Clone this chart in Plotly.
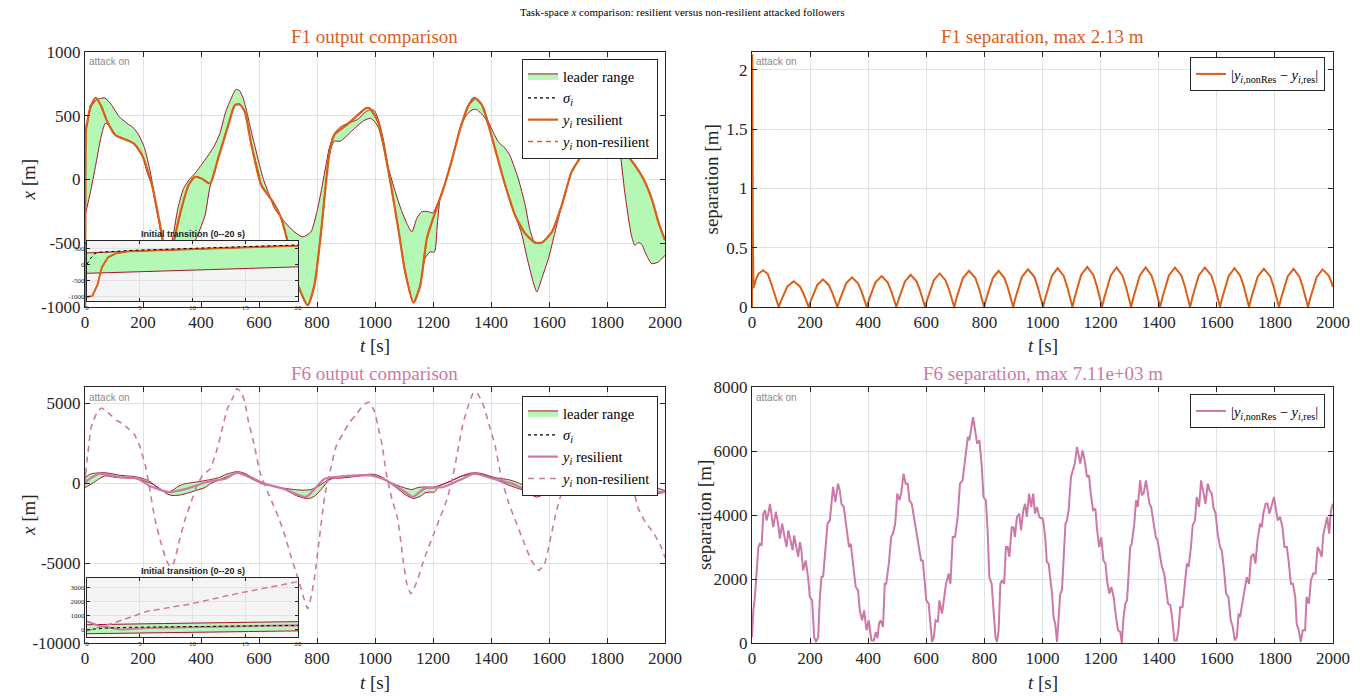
import plotly.graph_objects as go

# ---------------- data ----------------
# Leader range (shared by both followers)
BAND_UP_T = [0, 20, 40, 68, 90, 117, 145, 165, 185, 205, 225, 245, 265, 285, 300, 320, 340, 360, 380, 400,
             425, 445, 465, 485, 505, 520, 532, 545, 558, 572, 586, 600, 614, 635, 654, 688, 722, 751, 779, 800,
             814, 830, 842, 860, 880, 905, 939, 968, 985, 998, 1013, 1030, 1047, 1070, 1093, 1110, 1127, 1144,
             1160, 1180, 1200, 1215, 1236, 1265, 1294, 1323, 1340, 1355, 1375, 1391, 1410, 1425, 1449, 1465,
             1480, 1494, 1518, 1535, 1552, 1575, 1610, 1644, 1678, 1713, 1741, 1770, 1795, 1815, 1829, 1840,
             1861, 1896, 1925, 1954, 1977, 2000]
BAND_UP = [350, 565, 625, 640, 590, 495, 440, 410, 350, 250, 60, -200, -450, -560, -480, -230, -70, 0, 50, 110,
           190, 260, 360, 530, 640, 705, 700, 640, 530, 390, 260, 130, 10, -120, -228, -332, -411, -450, -411, -250,
           -97, 100, 244, 360, 410, 440, 470, 531, 550, 540, 460, 300, 86, -97, -254, -346, -411, -306,
           -255, -250, -262, -190, -71, 152, 401, 590, 645, 625, 560, 453, 360, 296, 244, 190,
           100, 8, -202, -400, -500, -495, -411, -202, 60, 191, 330, 480, 600, 560, 350, 300,
           217, 113, 8, -149, -332, -476]

BAND_LO_T = [0, 20, 40, 55, 70, 85, 105, 139, 168, 197, 215, 231, 245, 259, 280, 300, 325, 350, 379, 400,
             414, 431, 459, 494, 517, 534, 551, 574, 600, 608, 648, 677, 699, 730, 768, 791, 814, 842, 859, 880,
             920, 960, 985, 1000, 1013, 1036, 1059, 1082, 1104, 1133, 1156, 1172, 1190, 1205, 1215, 1225, 1236,
             1265, 1294, 1315, 1335, 1350, 1365, 1380, 1391, 1420, 1449, 1483, 1505, 1525, 1545, 1558, 1575,
             1598, 1621, 1644, 1678, 1713, 1741, 1770, 1795, 1815, 1829, 1845, 1861, 1884, 1896, 1908, 1920,
             1931, 1954, 1977, 2000]
BAND_LO = [-287, -85, 150, 330, 440, 420, 348, 314, 283, 191, 50, -45, -220, -359, -650, -780, -760, -650, -489, -370,
           -280, -57, 165, 427, 584, 589, 531, 270, 40, -45, -175, -306, -489, -800, -987, -830, -411, 191, 300, 300,
           380, 460, 480, 450, 400, 191, -97, -411, -725, -966, -830, -620, -568, -568, -350, -140, -71,
           152, 401, 505, 545, 550, 520, 480, 427, 191, -45, -280, -420, -620, -800, -882, -777,
           -620, -411, -202, 60, 191, 309, 400, 480, 420, 300, 200, -97, -437, -516, -495, -510,
           -568, -660, -647, -594]

# Follower F1 output (resilient; non-resilient coincides at this scale)
F1_T = [0, 0.5, 1, 1.4, 2, 2.8, 4, 6, 9, 12, 15, 20, 37, 55, 77, 105, 139, 168, 197, 231, 259, 275, 290, 307,
        330, 357, 379, 402, 431, 459, 494, 517, 534, 551, 574, 608, 648, 677, 699, 730, 768, 791, 814, 842, 859,
        894, 928, 968, 980, 991, 1013, 1036, 1059, 1082, 1104, 1133, 1156, 1179, 1208, 1236, 1265, 1294, 1323,
        1346, 1369, 1391, 1420, 1449, 1483, 1518, 1552, 1575, 1610, 1644, 1678, 1713, 1741, 1765, 1790, 1810,
        1829, 1861, 1896, 1925, 1954, 1977, 2000]
F1_RES = [-1030, -990, -640, -106, 213, 340, 404, 425, 457, 500, 532, 574, 641, 580, 453, 348, 314, 283, 191, -45, -359,
          -560, -650, -480, -250, -45, 21, 8, -31, 165, 427, 584, 589, 531, 270, -45, -175, -306, -489, -800, -987,
          -830, -411, 191, 348, 414, 479, 558, 560, 531, 440, 191, -97, -411, -725, -966, -830, -463, -254, -71, 152,
          401, 584, 636, 584, 427, 191, -45, -280, -424, -495, -495, -411, -202, 60, 191, 309, 430, 540, 470,
          330, 217, 113, 8, -149, -332, -476]

# sigma_i during the initial transition
SIG1_T = [0, 0.3, 0.7, 1.2, 2.5, 4, 8, 12, 16, 20]
SIG1 = [0, 160, 320, 372, 394, 425, 470, 510, 548, 596]
SIG6_T = [0, 1, 2, 4, 8, 12, 16, 20]
SIG6 = [0, 80, 118, 165, 200, 235, 270, 300]

# Follower F6 outputs
F6_T = [0, 1.3, 3.2, 5.7, 20, 50, 116, 182, 220, 287, 353, 419, 485, 524, 564, 617, 683, 762, 800, 827, 906, 985,
        1038, 1104, 1130, 1170, 1236, 1302, 1341, 1407, 1473, 1552, 1605, 1657, 1723, 1789, 1855, 1908, 2000]
F6_RES = [590, 236, 20, 118, 307, 580, 375, 270, -150, -560, -350, 60, 270, 650, 375, -40, -350, -870, -200, 270, 440,
          480, 170, -560, -870, -350, -250, 270, 580, 270, -40, -670, -350, 60, 270, 480, -150, -460, -560]

F6N_T = [0, 2.5, 5.7, 9.8, 14.5, 20, 30, 43, 57, 70, 90, 109, 129, 149, 169, 188, 208, 221, 241, 261, 281, 294, 307,
         327, 346, 366, 386, 406, 432, 452, 472, 491, 511, 524, 538, 551, 564, 584, 603, 630, 650, 669, 689, 709,
         735, 755, 768, 781, 794, 808, 827, 847, 867, 893, 913, 933, 959, 979, 999, 1012, 1025, 1038, 1058, 1078,
         1098, 1111, 1124, 1144, 1170, 1196, 1223, 1249, 1269, 1289, 1302, 1322, 1341, 1354, 1374, 1394, 1414,
         1434, 1460, 1486, 1513, 1539, 1565, 1585, 1605, 1625, 1644, 1664, 1680, 1700, 1720, 1750, 1775, 1797,
         1820, 1840, 1860, 1875, 1890, 1908, 1934, 1960, 1987, 2000]
F6_NRES = [-100, 470, 1300, 1820, 2600, 3400, 3950, 4440, 4690, 4540, 4230, 3920, 3710, 3400, 3080, 2350, 1100, -150,
           -2230, -3690, -4830, -5250, -4940, -3480, -2230, -1190, -150, 480, 900, 1900, 3300, 4650, 5375, 5900, 5690,
           5060, 3810, 2350, 690, -560, -1400, -2230, -3270, -4520, -5980, -7230, -7850, -7020, -5560, -3480, -770,
           900, 2350, 3190, 3810, 4230, 4850, 5060, 4440, 3400, 2350, 690, -980, -2230, -4940, -6400, -6920, -6190,
           -4730, -3480, -2230, -980, 480, 2350, 3600, 4850, 5690, 5580, 4850, 3600, 2350, 480, -1190, -2440, -3690,
           -4830, -5460, -5040, -3480, -1810, -560, 480, 1000, 2200, 2900, 4000, 4800, 5100, 4400, 3300, 1900, 800,
           -300, -1600, -2500, -3100, -4000, -4650]

# F1 separation |y_nonRes - y_res|
SEP1_T = [0, 1, 3, 5, 12, 22, 38, 54, 66, 76, 84, 92,
          100, 110, 122, 143, 165, 177, 187, 195,
          203, 213, 225, 244, 264, 276, 286, 294,
          302, 312, 324, 344, 365, 377, 387, 395,
          403, 413, 425, 446, 467, 479, 489, 497,
          505, 515, 527, 546, 566, 578, 588, 596,
          604, 614, 626, 646, 666, 678, 688, 696,
          704, 714, 726, 747, 769, 781, 791, 799,
          807, 817, 829, 849, 869, 881, 891, 899,
          907, 917, 929, 950, 972, 984, 994, 1002,
          1010, 1020, 1032, 1052, 1073, 1085, 1095, 1103,
          1111, 1121, 1133, 1154, 1175, 1187, 1197, 1205,
          1213, 1223, 1235, 1255, 1275, 1287, 1297, 1305,
          1313, 1323, 1335, 1355, 1375, 1387, 1397, 1405,
          1413, 1423, 1435, 1456, 1478, 1490, 1500, 1508,
          1516, 1526, 1538, 1559, 1581, 1593, 1603, 1611,
          1619, 1629, 1641, 1661, 1681, 1693, 1703, 1711,
          1719, 1729, 1741, 1762, 1784, 1796, 1806, 1814,
          1822, 1832, 1844, 1864, 1884, 1896, 1906, 1914,
          1922, 1932, 1944, 1964, 1985, 1993, 2000]
SEP1 = [0, 2.13, 0.6, 0.16, 0.22, 0.28, 0.31, 0.28, 0.2, 0.13, 0.065, 0,
        0.053, 0.114, 0.174, 0.217, 0.174, 0.114, 0.053, 0,
        0.057, 0.122, 0.186, 0.233, 0.186, 0.122, 0.057, 0,
        0.061, 0.131, 0.2, 0.25, 0.2, 0.131, 0.061, 0,
        0.064, 0.137, 0.208, 0.26, 0.208, 0.137, 0.064, 0,
        0.067, 0.143, 0.218, 0.272, 0.218, 0.143, 0.067, 0,
        0.069, 0.149, 0.226, 0.283, 0.226, 0.149, 0.069, 0,
        0.075, 0.16, 0.244, 0.305, 0.244, 0.16, 0.075, 0,
        0.075, 0.16, 0.244, 0.305, 0.244, 0.16, 0.075, 0,
        0.078, 0.166, 0.254, 0.317, 0.254, 0.166, 0.078, 0,
        0.08, 0.172, 0.262, 0.328, 0.262, 0.172, 0.08, 0,
        0.083, 0.178, 0.271, 0.339, 0.271, 0.178, 0.083, 0,
        0.082, 0.175, 0.266, 0.333, 0.266, 0.175, 0.082, 0,
        0.082, 0.175, 0.266, 0.333, 0.266, 0.175, 0.082, 0,
        0.082, 0.175, 0.266, 0.333, 0.266, 0.175, 0.082, 0,
        0.082, 0.175, 0.266, 0.333, 0.266, 0.175, 0.082, 0,
        0.08, 0.172, 0.262, 0.328, 0.262, 0.172, 0.08, 0,
        0.079, 0.169, 0.258, 0.322, 0.258, 0.169, 0.079, 0,
        0.079, 0.169, 0.258, 0.322, 0.258, 0.169, 0.079, 0,
        0.078, 0.166, 0.254, 0.317, 0.265, 0.22, 0.17]

# F6 separation |y_nonRes - y_res|
SEP6_T = [0, 4.6, 10, 16, 22, 27, 33, 39, 45, 50, 56, 62, 67, 73, 82, 90, 96, 104, 113, 119, 125, 130, 140, 145, 153,
          159, 165, 170, 176, 185, 193, 199, 207, 214, 220, 228, 233, 239, 245, 251, 260, 268, 274, 279, 287, 296,
          302, 308, 316, 325, 334, 340, 348, 357, 365, 371, 379, 386, 394, 402, 411, 419, 426, 432, 437, 443, 451,
          457, 462, 471, 479, 485, 493, 500, 508, 514, 522, 529, 536, 542, 550, 557, 565, 574, 582, 588, 594, 600,
          608, 614, 620, 626, 632, 640, 645, 654, 662, 668, 677, 683, 691, 699, 708, 716, 725, 734, 743, 748, 754,
          761, 768, 775, 783, 791, 797, 805, 811, 817, 825, 832, 838, 843, 849, 855, 860, 868, 874, 880, 886, 894,
          900, 905, 912, 920, 926, 934, 940, 946, 954, 961, 968, 974, 981, 989, 994, 1000,
          1004, 1010, 1015, 1021, 1027, 1033, 1038, 1044, 1050, 1056, 1061, 1067, 1073, 1079, 1084, 1090, 1098,
          1104, 1111, 1119, 1124, 1130, 1138, 1145, 1153, 1160, 1166, 1174, 1182, 1187, 1195, 1202, 1210, 1217,
          1222, 1230, 1237, 1245, 1253, 1260, 1268, 1273, 1279, 1285, 1291, 1296, 1302, 1307, 1316, 1322, 1328,
          1336, 1342, 1348, 1356, 1363, 1368, 1374, 1382, 1390, 1396, 1403, 1411, 1419, 1425, 1432, 1440, 1446,
          1454, 1462, 1468, 1474, 1482, 1489, 1497, 1503, 1511, 1517, 1525, 1531, 1539, 1546, 1554, 1561, 1569,
          1575, 1583, 1588, 1596, 1603, 1611, 1617, 1625, 1632, 1640, 1648, 1655, 1662, 1669, 1675, 1680, 1688,
          1695, 1703, 1711, 1718, 1726, 1733, 1740, 1749, 1755, 1760, 1768, 1775, 1781, 1789, 1797, 1804, 1810,
          1818, 1826, 1833, 1841, 1847, 1855, 1862, 1870, 1875, 1882, 1889, 1896, 1904, 1909, 1917, 1924, 1932,
          1940, 1947, 1953, 1961, 1967, 1975, 1980, 1987, 1993, 2000]
SEP6 = [190, 1020, 1440, 2270, 3000, 3100, 3050, 4040, 4150, 3830, 4040, 4350, 4040, 3620, 4100, 3730, 3260, 3730,
        3260, 3000, 3520, 3310, 2900, 3360, 3000, 2690, 3160, 2900, 2270, 2580, 2060, 1440, 1330, 190, 30, 190, 1330,
        2060, 2080, 2690, 3730, 3830, 4560, 4880, 4400, 4980, 4770, 4350, 4250, 3620, 3000, 3100, 2480, 1750, 1650,
        1020, 710, 1020, 400, 710, 80, 80, 340, 150, 600, 710, 500, 1850, 1850, 2480, 3310, 3420, 3730, 4670, 4460,
        4720, 5290, 4980, 4980, 4460, 4350, 3940, 3620, 3000, 2580, 2580, 1850, 1330, 1230, 500, 30, 190, 710, 660,
        1330, 920, 1440, 1850, 2170, 1850, 3310, 3310, 3940, 4980, 5080, 5710, 6440, 6330, 6650, 7060, 6650, 6230,
        6330, 5500, 4560, 4460, 3520, 2060, 1850, 920, 190, 30, 400, 1850, 1960, 1850, 3000, 3000, 2690, 3620, 3620,
        3310, 3940, 4040, 3520, 4150, 4350, 3940, 4670, 4250, 4670, 4040, 4250, 3940, 3900, 3900,
        3730, 3210, 2530, 2480, 2060, 1540, 810, 600, 30, 810, 1540, 1650, 2690, 3730, 3830, 4150, 5190,
        5350, 5610, 6130, 5920, 5610, 6020, 5710, 5190, 5240, 4670, 4150, 4200, 3620, 3000, 3310, 2580, 2480,
        1960, 1540, 1750, 1440, 810, 400, 340, 0, 810, 1230, 1330, 2270, 3000, 3100, 3730, 4460, 4250,
        5080, 4620, 4670, 5080, 4670, 4350, 4250, 3730, 3310, 3210, 2790, 2380, 2170, 1650, 1230, 1180, 810,
        80, 80, 400, 1120, 1120, 1850, 2480, 2380, 3000, 3680, 3830, 4560, 4250, 5080, 4670, 4350, 4980,
        4770, 4670, 4250, 4040, 3420, 3000, 2900, 2270, 1540, 1440, 710, 500, 80, 190, 920, 810, 1230,
        1650, 2060, 1850, 2690, 2790, 2480, 3210, 3730, 3620, 4040, 4350, 4350, 4040, 4350, 4560, 4150, 3830,
        3940, 3620, 3000, 3000, 2580, 1850, 1850, 1440, 600, 400, 30, 400, 400, 1440, 1230, 1960, 2170,
        2170, 3000, 2900, 2690, 3420, 3730, 3940, 3420, 4150, 4350]

T_TICKS = [0, 200, 400, 600, 800, 1000, 1200, 1400, 1600, 1800, 2000]
INSET_TICKS = [0, 5, 10, 15, 20]

# ---------------- styling ----------------
W, H = 1364, 696
SERIF = "Liberation Serif, Times New Roman, serif"
SANS = "Liberation Sans, Arial, sans-serif"
ORANGE = "#d9601a"
PINK = "#cc79a7"
BANDLINE = "#a2142f"
BANDFILL = "#b5f8b5"
AXC = "#262626"
GRID = "#e2e2e2"


def px(x):
    return x / W


def py(y):
    return 1 - y / H


def xd(a, b):
    return [px(a), px(b)]


def yd(top, bot):
    return [py(bot), py(top)]


TL = dict(x=xd(85, 665), y=yd(52, 307))
TR = dict(x=xd(752, 1333), y=yd(52, 307))
BL = dict(x=xd(85, 665), y=yd(387, 643))
BR = dict(x=xd(752, 1333), y=yd(387, 643))
INS1 = dict(x=xd(87, 298), y=yd(241, 301))
INS2 = dict(x=xd(87, 298), y=yd(578, 637))


def ax(domain, anchor, rng, tickvals, ticktext=None, small=False):
    d = dict(domain=domain, anchor=anchor, range=rng, tickvals=tickvals, automargin=False,
             showline=True, linecolor=AXC, linewidth=1, mirror="ticks",
             ticks="inside", ticklen=3 if small else 5, tickcolor=AXC,
             showgrid=True, gridcolor=GRID, gridwidth=1, zeroline=False,
             tickfont=dict(family=SERIF, size=7 if small else 17, color=AXC))
    if ticktext is not None:
        d["ticktext"] = ticktext
    return d


fig = go.Figure()


def band(xa, ya, legend, show):
    fig.add_trace(go.Scatter(x=BAND_LO_T, y=BAND_LO, mode="lines", xaxis=xa, yaxis=ya,
                             line=dict(color=BANDLINE, width=1, shape="spline", smoothing=0.6),
                             showlegend=False, hoverinfo="skip"))
    fig.add_trace(go.Scatter(x=BAND_UP_T, y=BAND_UP, mode="lines", xaxis=xa, yaxis=ya, fill="tonexty",
                             fillcolor=BANDFILL,
                             line=dict(color=BANDLINE, width=1, shape="spline", smoothing=0.6),
                             showlegend=False, hoverinfo="skip"))
    if show:
        # legend-only patch for the leader range
        fig.add_trace(go.Scatter(x=[None], y=[None], mode="lines", xaxis=xa, yaxis=ya, fill="toself",
                                 fillcolor=BANDFILL, line=dict(color=BANDLINE, width=1),
                                 name="leader range", legend=legend))


SEP_NAME = "|<i>y</i><sub><i>i</i>,nonRes</sub> − <i>y</i><sub><i>i</i>,res</sub>|"

# ---- F1 main panel
band("x", "y", "legend", True)
fig.add_trace(go.Scatter(x=SIG1_T, y=SIG1, mode="lines", xaxis="x", yaxis="y",
                         line=dict(color="black", width=1.2, dash="dot"),
                         name="<i>σ<sub>i</sub></i>", legend="legend"))
fig.add_trace(go.Scatter(x=F1_T, y=F1_RES, mode="lines", xaxis="x", yaxis="y",
                         line=dict(color=ORANGE, width=2.2, shape="spline", smoothing=0.6),
                         name="<i>y<sub>i</sub></i> resilient", legend="legend"))
fig.add_trace(go.Scatter(x=F1_T, y=F1_RES, mode="lines", xaxis="x", yaxis="y",
                         line=dict(color=ORANGE, width=1.6, dash="5px,4px", shape="spline", smoothing=0.6),
                         name="<i>y<sub>i</sub></i> non-resilient", legend="legend"))

# ---- F1 separation
fig.add_trace(go.Scatter(x=SEP1_T, y=SEP1, mode="lines", xaxis="x2", yaxis="y2",
                         line=dict(color=ORANGE, width=2), name=SEP_NAME, legend="legend2"))

# ---- F6 main panel
band("x3", "y3", "legend3", True)
fig.add_trace(go.Scatter(x=SIG6_T, y=SIG6, mode="lines", xaxis="x3", yaxis="y3",
                         line=dict(color="black", width=1.2, dash="dot"),
                         name="<i>σ<sub>i</sub></i>", legend="legend3"))
fig.add_trace(go.Scatter(x=F6_T, y=F6_RES, mode="lines", xaxis="x3", yaxis="y3",
                         line=dict(color=PINK, width=2.2, shape="spline", smoothing=0.6),
                         name="<i>y<sub>i</sub></i> resilient", legend="legend3"))
fig.add_trace(go.Scatter(x=F6N_T, y=F6_NRES, mode="lines", xaxis="x3", yaxis="y3",
                         line=dict(color=PINK, width=1.6, dash="6px,5px", shape="spline", smoothing=0.5),
                         name="<i>y<sub>i</sub></i> non-resilient", legend="legend3"))

# ---- F6 separation
fig.add_trace(go.Scatter(x=SEP6_T, y=SEP6, mode="lines", xaxis="x4", yaxis="y4",
                         line=dict(color=PINK, width=2), name=SEP_NAME, legend="legend4"))

# ---- insets
band("x5", "y5", "legend", False)
fig.add_trace(go.Scatter(x=F1_T, y=F1_RES, mode="lines", xaxis="x5", yaxis="y5",
                         line=dict(color=ORANGE, width=2), showlegend=False))
fig.add_trace(go.Scatter(x=SIG1_T, y=SIG1, mode="lines", xaxis="x5", yaxis="y5",
                         line=dict(color="black", width=1, dash="dot"), showlegend=False))

band("x6", "y6", "legend3", False)
fig.add_trace(go.Scatter(x=F6_T, y=F6_RES, mode="lines", xaxis="x6", yaxis="y6",
                         line=dict(color=PINK, width=2), showlegend=False))
fig.add_trace(go.Scatter(x=SIG6_T, y=SIG6, mode="lines", xaxis="x6", yaxis="y6",
                         line=dict(color="black", width=1, dash="dot"), showlegend=False))
fig.add_trace(go.Scatter(x=F6N_T, y=F6_NRES, mode="lines", xaxis="x6", yaxis="y6",
                         line=dict(color=PINK, width=1.5, dash="6px,4px"), showlegend=False))

# ---------------- layout ----------------
t_txt = [str(v) for v in T_TICKS]
layout = dict(
    width=W, height=H, autosize=False,
    margin=dict(l=0, r=0, t=0, b=0),
    paper_bgcolor="white", plot_bgcolor="white",
    xaxis=ax(TL["x"], "y", [0, 2000], T_TICKS, t_txt),
    yaxis=ax(TL["y"], "x", [-1000, 1000], [-1000, -500, 0, 500, 1000], ["-1000", "-500", "0", "500", "1000"]),
    xaxis2=ax(TR["x"], "y2", [0, 2000], T_TICKS, t_txt),
    yaxis2=ax(TR["y"], "x2", [0, 2.15], [0, 0.5, 1, 1.5, 2], ["0", "0.5", "1", "1.5", "2"]),
    xaxis3=ax(BL["x"], "y3", [0, 2000], T_TICKS, t_txt),
    yaxis3=ax(BL["y"], "x3", [-10000, 6000], [-10000, -5000, 0, 5000], ["-10000", "-5000", "0", "5000"]),
    xaxis4=ax(BR["x"], "y4", [0, 2000], T_TICKS, t_txt),
    yaxis4=ax(BR["y"], "x4", [0, 8000], [0, 2000, 4000, 6000, 8000], ["0", "2000", "4000", "6000", "8000"]),
    xaxis5=ax(INS1["x"], "y5", [0, 20], INSET_TICKS, None, True),
    yaxis5=ax(INS1["y"], "x5", [-1150, 720], [-1000, -500, 0, 500], ["-1000", "-500", "0", "500"], True),
    xaxis6=ax(INS2["x"], "y6", [0, 20], INSET_TICKS, None, True),
    yaxis6=ax(INS2["y"], "x6", [-520, 3660], [0, 1000, 2000, 3000], None, True),
    showlegend=True,
)

leg_common = dict(xanchor="right", yanchor="top", bgcolor="white", bordercolor=AXC, borderwidth=1,
                  font=dict(family=SERIF, size=14.5, color="black"), tracegroupgap=0, itemwidth=30,
                  traceorder="normal")
layout["legend"] = dict(x=px(658), y=py(59), **leg_common)
layout["legend2"] = dict(x=px(1325), y=py(57), **leg_common)
layout["legend3"] = dict(x=px(658), y=py(396), **leg_common)
layout["legend4"] = dict(x=px(1325), y=py(394), **leg_common)

ann = []


def text(t, x, y, size, color, family=SERIF, xanchor="center", yanchor="middle", angle=0):
    ann.append(dict(text=t, x=px(x), y=py(y), xref="paper", yref="paper", showarrow=False,
                    font=dict(family=family, size=size, color=color), xanchor=xanchor, yanchor=yanchor,
                    textangle=angle))


text("Task-space <i>x</i> comparison: resilient versus non-resilient attacked followers", 682, 12, 11, "black")
text("F1 output comparison", 375, 37, 19, ORANGE)
text("F1 separation, max 2.13 m", 1042.5, 37, 19, ORANGE)
text("F6 output comparison", 375, 373, 19, PINK)
text("F6 separation, max 7.11e+03 m", 1042.5, 373, 19, PINK)
# axis titles
for cx, cy in [(375, 345), (1042.5, 345), (375, 682), (1042.5, 682)]:
    text("<i>t</i> [s]", cx, cy, 19, AXC)
text("<i>x</i> [m]", 28, 179.5, 19, AXC, angle=-90)
text("<i>x</i> [m]", 28, 515, 19, AXC, angle=-90)
text("separation [m]", 711, 179.5, 19, AXC, angle=-90)
text("separation [m]", 704, 515, 19, AXC, angle=-90)
for ax0, ay0 in [(87, 54), (754, 54), (87, 390), (754, 390)]:
    text("attack on", ax0, ay0, 10, "#8a8a8a", family=SANS, xanchor="left", yanchor="top")
for cy in [234, 571]:
    text("<b>Initial transition (0--20 s)</b>", 192.5, cy, 9, "#222222", family=SANS)
layout["annotations"] = ann

layout["shapes"] = [
    dict(type="rect", xref="x5", yref="y5", x0=0, x1=20, y0=-1150, y1=720, fillcolor="#f4f4f4",
         line=dict(width=0), layer="below"),
    dict(type="rect", xref="x6", yref="y6", x0=0, x1=20, y0=-520, y1=3660, fillcolor="#f4f4f4",
         line=dict(width=0), layer="below"),
]

fig.update_layout(layout)
# the page body's default margin would push the figure 8 px off; remove it
fig.write_html("out.html", config={"displayModeBar": False},
               post_script="document.body.style.margin='0px';document.body.style.overflow='hidden';")
